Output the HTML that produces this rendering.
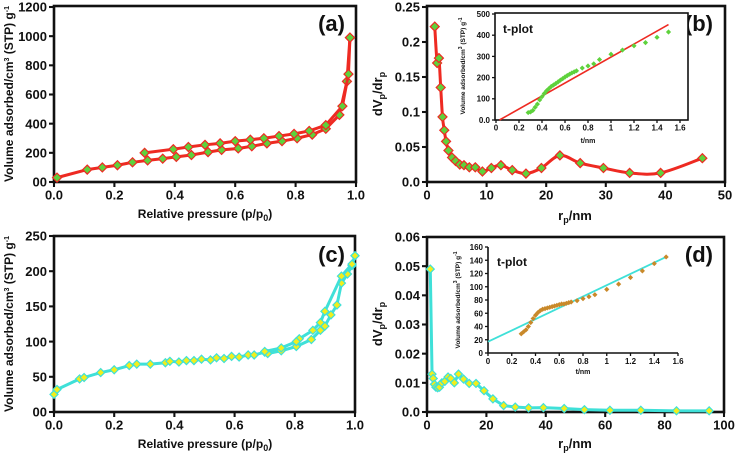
<!DOCTYPE html>
<html><head><meta charset="utf-8">
<style>
html,body{margin:0;padding:0;background:#fff;}
svg{display:block;font-family:"Liberation Sans",Arial,sans-serif;font-weight:bold;}
</style></head>
<body>
<svg id="fig" width="736" height="453" viewBox="0 0 736 453" xmlns="http://www.w3.org/2000/svg"></svg>
<script>
// ---- Panel (a) data ----
const aAdsX = [0.01,0.11,0.16,0.21,0.26,0.31,0.36,0.405,0.455,0.51,0.555,0.61,0.655,0.705,0.755,0.805,0.855,0.9,0.945,0.97,0.98];
const aAdsY = [30,85,100,115,135,148,160,172,185,205,220,230,245,265,280,300,325,365,460,690,990];
const aDesX = [0.98,0.975,0.955,0.9,0.845,0.795,0.745,0.695,0.65,0.6,0.55,0.5,0.445,0.395,0.3];
const aDesY = [990,740,520,390,350,330,315,300,290,280,265,255,240,225,200];
const aXTicks = [0,0.2,0.4,0.6,0.8,1.0];
const aXLabels = ["0.0","0.2","0.4","0.6","0.8","1.0"];
const aYTicks = [0,200,400,600,800,1000,1200];
const aYLabels = ["00","200","400","600","800","1000","1200"];
// ---- Panel (b) data ----
const bX = [1.3,1.7,2.0,2.3,2.6,2.9,3.2,3.6,4.2,4.8,5.5,6.2,7.1,8.1,9.3,10.8,12.4,14.3,16.6,19.2,22.3,25.7,29.6,34,39.2,46.2];
const bY = [0.222,0.17,0.177,0.135,0.093,0.074,0.058,0.045,0.035,0.030,0.025,0.024,0.021,0.021,0.015,0.020,0.024,0.017,0.012,0.020,0.038,0.027,0.020,0.013,0.013,0.034];
const bXTicks = [0,10,20,30,40,50];
const bXLabels = ["0","10","20","30","40","50"];
const bYTicks = [0,0.05,0.1,0.15,0.2,0.25];
const bYLabels = ["0.0","0.05","0.1","0.15","0.2","0.25"];
const btX = [0.28,0.30,0.32,0.34,0.36,0.38,0.40,0.42,0.44,0.46,0.48,0.50,0.52,0.54,0.56,0.58,0.60,0.62,0.64,0.66,0.68,0.70,0.75,0.8,0.85,0.9,1.0,1.1,1.2,1.3,1.4,1.5];
const btY = [35,38,45,60,75,95,110,125,138,148,158,165,172,180,188,195,203,210,216,222,227,232,245,255,265,285,310,330,350,365,390,415];
const btLineX = [0.03,1.5];
const btLineY = [0,450];
const btXTicks = [0,0.2,0.4,0.6,0.8,1,1.2,1.4,1.6];
const btXLabels = ["0","0.2","0.4","0.6","0.8","1","1.2","1.4","1.6"];
const btYTicks = [0,100,200,300,400,500];
const btYLabels = ["0.0","100","200","300","400","500"];
// ---- Panel (c) data ----
const cAdsX = [0.0,0.01,0.085,0.1,0.155,0.2,0.25,0.275,0.32,0.37,0.385,0.415,0.44,0.465,0.49,0.52,0.54,0.565,0.59,0.615,0.645,0.665,0.7,0.71,0.755,0.805,0.855,0.885,0.9,0.92,0.94,0.955,0.975,0.99,1.0];
const cAdsY = [25,32,47,49,56,60,66,68,68,70,72,71,73,73,75,74,77,76,79,78,81,81,85,83,87,93,103,116,122,138,152,183,196,208,222];
const cDesX = [1.0,0.99,0.955,0.9,0.885,0.86,0.815,0.805,0.755,0.7];
const cDesY = [222,210,193,143,127,116,104,100,91,86];
const cXTicks = [0,0.2,0.4,0.6,0.8,1.0];
const cXLabels = ["0.0","0.2","0.4","0.6","0.8","1.0"];
const cYTicks = [0,50,100,150,200,250];
const cYLabels = ["00","50","100","150","200","250"];
// ---- Panel (d) data ----
const dX = [1.1,1.7,2.1,2.5,3.0,3.6,4.2,5.0,6.0,7.1,8.0,9.2,10.6,12.3,14.2,16.5,19.2,22.2,25.8,29.7,34.2,39.2,46.2,53,61.6,72,84,95];
const dY = [0.049,0.013,0.0115,0.0095,0.0085,0.0083,0.0085,0.0100,0.0105,0.012,0.0115,0.0100,0.013,0.0113,0.0098,0.0098,0.0073,0.0045,0.0022,0.0017,0.0014,0.0015,0.0012,0.0008,0.0006,0.0006,0.0004,0.0004];
const dXTicks = [0,20,40,60,80,100];
const dXLabels = ["0","20","40","60","80","100"];
const dYTicks = [0,0.01,0.02,0.03,0.04,0.05,0.06];
const dYLabels = ["0.0","0.01","0.02","0.03","0.04","0.05","0.06"];
const dtX = [0.28,0.3,0.32,0.34,0.36,0.38,0.40,0.42,0.44,0.46,0.48,0.50,0.52,0.54,0.56,0.58,0.60,0.62,0.64,0.66,0.68,0.70,0.75,0.8,0.85,0.9,1.0,1.1,1.2,1.3,1.4,1.5];
const dtY = [29,32,35,40,46,52,57,61,64,66,67,68,69,70,71,72,73,74,74,75,76,77,79,82,85,88,96,104,114,124,135,145];
const dtLineX = [0,1.5];
const dtLineY = [17,145];
const dtXTicks = [0,0.2,0.4,0.6,0.8,1,1.2,1.4,1.6];
const dtXLabels = ["0","0.2","0.4","0.6","0.8","1","1.2","1.4","1.6"];
const dtYTicks = [0,20,40,60,80,100,120,140,160];
const dtYLabels = ["0","20","40","60","80","100","120","140","160"];

const NS = "http://www.w3.org/2000/svg";
const fig = document.getElementById('fig');
function mk(tag, attrs, parent){
  const e = document.createElementNS(NS, tag);
  for (const k in attrs) e.setAttribute(k, attrs[k]);
  (parent||fig).appendChild(e);
  return e;
}
function scale(d0,d1,r0,r1){ return v => r0 + (v-d0)/(d1-d0)*(r1-r0); }
function smoothPath(pts){
  let d = "M"+pts[0][0]+","+pts[0][1];
  for (let i=0;i<pts.length-1;i++){
    const p0=pts[Math.max(0,i-1)], p1=pts[i], p2=pts[i+1], p3=pts[Math.min(pts.length-1,i+2)];
    const c1=[p1[0]+(p2[0]-p0[0])/6, p1[1]+(p2[1]-p0[1])/6];
    const c2=[p2[0]-(p3[0]-p1[0])/6, p2[1]-(p3[1]-p1[1])/6];
    d += " C"+c1+" "+c2+" "+p2;
  }
  return d;
}
function linePath(pts){ return "M"+pts.map(p=>p.join(",")).join(" L"); }

function axes(g, sx, sy, box, xt, xl, yt, yl, fs, tick, sw, name){
  const fr = mk('rect',{x:box[0],y:box[1],width:box[2]-box[0],height:box[3]-box[1],fill:'none',stroke:'#111','stroke-width':sw},g);
  
  
  xt.forEach((v,i)=>{
    const x=sx(v);
    mk('line',{x1:x,x2:x,y1:box[3],y2:box[3]+tick,stroke:'#111','stroke-width':sw*0.8},g);
    const t = mk('text',{x:x,y:box[3]+tick+fs*0.95,'font-size':fs,'text-anchor':'middle',fill:'#111'},g);
    t.textContent = xl[i];
    
    
  });
  yt.forEach((v,i)=>{
    const y=sy(v);
    mk('line',{x1:box[0]-tick,x2:box[0],y1:y,y2:y,stroke:'#111','stroke-width':sw*0.8},g);
    const t = mk('text',{x:box[0]-tick-2,y:y+fs*0.36,'font-size':fs,'text-anchor':'end',fill:'#111'},g);
    t.textContent = yl[i];
    
    
  });
}
function series(g, sx, sy, xs, ys, color, fill, lw, smooth, ms, name, noLine){
  const pts = xs.map((v,i)=>[sx(v), sy(ys[i])]);
  if(!noLine){
    const p = mk('path',{d: smooth?smoothPath(pts):linePath(pts), fill:'none', stroke:color,'stroke-width':lw,'stroke-linejoin':'round'},g);
    
    
  }
  pts.forEach(p=>{
    const m = mk('path',{d:`M${p[0]},${p[1]-ms} L${p[0]+ms},${p[1]} L${p[0]},${p[1]+ms} L${p[0]-ms},${p[1]} Z`, fill:fill, stroke:color,'stroke-width':noLine?0:1.2},g);
    
    
  });
}
function simpleLine(g,sx,sy,xs,ys,color,w,name){
  const l = mk('line',{x1:sx(xs[0]),y1:sy(ys[0]),x2:sx(xs[1]),y2:sy(ys[1]),stroke:color,'stroke-width':w},g);
  
  
}
function label(g,x,y,txt,fs,name,rot,anchor){
  const t = mk('text',{x:x,y:y,'font-size':fs,'text-anchor':anchor||'middle',fill:'#111'},g);
  if(rot) t.setAttribute('transform',`rotate(-90 ${x} ${y})`);
  t.innerHTML = txt;
  
  
  return t;
}
function group(name){ const g=mk('g',{});   return g; }

const RED='#ee2a22', GREEN='#5ed23c', CYAN='#3fe0d8', YEL='#f2ee1c', BROWN='#c9892a';

// Panel a
{
  const g=group('panel-a');
  const sx=scale(0,1,54,356), sy=scale(0,1200,182,7);
  axes(g,sx,sy,[54,6,356,182],aXTicks,aXLabels,aYTicks,aYLabels,13,5,2.6,'panel-a');
  series(g,sx,sy,aAdsX,aAdsY,RED,GREEN,3,false,4.5,'adsorption-a');
  series(g,sx,sy,aDesX,aDesY,RED,GREEN,3,false,4.5,'desorption-a');
  label(g,205,218,'Relative pressure (p/p<tspan font-size="9" dy="3">0</tspan><tspan dy="-3">)</tspan>',12,'x-axis-title-a');
  label(g,13,94,'Volume adsorbed/cm<tspan font-size="7" dy="-4">3</tspan><tspan dy="4"> (STP) g</tspan><tspan font-size="7" dy="-4">-1</tspan>',12,'y-axis-title-a',true);
  label(g,345,31,'(a)',22,'panel-label-a',false,'end');
}
// Panel b
{
  const g=group('panel-b');
  const sx=scale(0,50,427,725), sy=scale(0,0.25,182,7);
  axes(g,sx,sy,[427,6,725,182],bXTicks,bXLabels,bYTicks,bYLabels,13,5,2.6,'panel-b');
  series(g,sx,sy,bX,bY,RED,GREEN,3,true,4.5,'pore-size-b');
  label(g,575,220,'r<tspan font-size="9" dy="3">p</tspan><tspan dy="-3">/nm</tspan>',13,'x-axis-title-b');
  label(g,382,94,'dV<tspan font-size="9" dy="3">p</tspan><tspan dy="-3">/dr</tspan><tspan font-size="9" dy="3">p</tspan>',13,'y-axis-title-b',true);
  label(g,713,31,'(b)',22,'panel-label-b',false,'end');
  const gi=group('inset-b');
  g.appendChild(gi);
  const ix=scale(0,1.6,496,680), iy=scale(0,500,120,14);
  mk('rect',{x:495,y:13,width:193,height:107,fill:'#fff'},gi);
  axes(gi,ix,iy,[495,13,688,120],btXTicks,btXLabels,btYTicks,btYLabels,8,3,1.6,'inset-b');
  simpleLine(gi,ix,iy,btLineX,btLineY,RED,1.6,'t-plot-fit-b');
  series(gi,ix,iy,btX,btY,GREEN,GREEN,0,false,2.6,'t-plot-b',true);
  label(gi,588,143,'t/nm',7,'inset-x-title-b');
  label(gi,465,66,'Volume adsorbed/cm<tspan font-size="5" dy="-3">3</tspan><tspan dy="3"> (STP) g</tspan><tspan font-size="5" dy="-3">-1</tspan>',6.5,'inset-y-title-b',true);
  label(gi,503,33,'t-plot',12,'inset-title-b',false,'start');
}
// Panel c
{
  const g=group('panel-c');
  const sx=scale(0,1,54,355), sy=scale(0,250,412,236);
  axes(g,sx,sy,[54,236,355,412],cXTicks,cXLabels,cYTicks,cYLabels,13,5,2.6,'panel-c');
  series(g,sx,sy,cAdsX,cAdsY,CYAN,YEL,3,false,4,'adsorption-c');
  series(g,sx,sy,cDesX,cDesY,CYAN,YEL,3,false,4,'desorption-c');
  label(g,205,448,'Relative pressure (p/p<tspan font-size="9" dy="3">0</tspan><tspan dy="-3">)</tspan>',12,'x-axis-title-c');
  label(g,13,324,'Volume adsorbed/cm<tspan font-size="7" dy="-4">3</tspan><tspan dy="4"> (STP) g</tspan><tspan font-size="7" dy="-4">-1</tspan>',12,'y-axis-title-c',true);
  label(g,345,262,'(c)',22,'panel-label-c',false,'end');
}
// Panel d
{
  const g=group('panel-d');
  const sx=scale(0,100,427,724), sy=scale(0,0.06,412,237);
  axes(g,sx,sy,[427,237,724,412],dXTicks,dXLabels,dYTicks,dYLabels,13,5,2.6,'panel-d');
  series(g,sx,sy,dX,dY,CYAN,YEL,3,false,4,'pore-size-d');
  label(g,575,448,'r<tspan font-size="9" dy="3">p</tspan><tspan dy="-3">/nm</tspan>',13,'x-axis-title-d');
  label(g,382,324,'dV<tspan font-size="9" dy="3">p</tspan><tspan dy="-3">/dr</tspan><tspan font-size="9" dy="3">p</tspan>',13,'y-axis-title-d',true);
  label(g,713,262,'(d)',22,'panel-label-d',false,'end');
  const gi=group('inset-d');
  g.appendChild(gi);
  const ix=scale(0,1.6,488,678), iy=scale(0,160,353,247);
  mk('rect',{x:488,y:247,width:190,height:106,fill:'#fff'},gi);
  const ax=mk('path',{d:'M488,247 L488,353 L678,353',fill:'none',stroke:'#111','stroke-width':1.6},gi);
  
  
  dtXTicks.forEach((v,i)=>{const x=ix(v);mk('line',{x1:x,x2:x,y1:353,y2:356,stroke:'#111','stroke-width':1.3},gi);
    const t=label(gi,x,364,dtXLabels[i],8,'inset-d-x-tick-label');});
  dtYTicks.forEach((v,i)=>{const y=iy(v);mk('line',{x1:485,x2:488,y1:y,y2:y,stroke:'#111','stroke-width':1.3},gi);
    label(gi,483,y+3,dtYLabels[i],8,'inset-d-y-tick-label',false,'end');});
  simpleLine(gi,ix,iy,dtLineX,dtLineY,CYAN,1.8,'t-plot-fit-d');
  series(gi,ix,iy,dtX,dtY,BROWN,BROWN,0,false,2.6,'t-plot-d',true);
  label(gi,583,374,'t/nm',7,'inset-x-title-d');
  label(gi,460,300,'Volume adsorbed/cm<tspan font-size="5" dy="-3">3</tspan><tspan dy="3"> (STP) g</tspan><tspan font-size="5" dy="-3">-1</tspan>',6.5,'inset-y-title-d',true);
  label(gi,497,266,'t-plot',12,'inset-title-d',false,'start');
}
</script>
</body></html>
